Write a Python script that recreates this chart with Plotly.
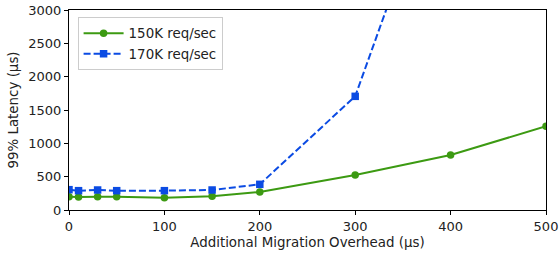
import plotly.graph_objects as go

x_150 = [0, 10, 30, 50, 100, 150, 200, 300, 400, 500]
y_150 = [200, 195, 200, 200, 185, 205, 270, 525, 825, 1255]
x_170 = [0, 10, 30, 50, 100, 150, 200, 300, 400]
y_170 = [305, 290, 300, 290, 290, 300, 385, 1705, 5700]

green = "#3c9a12"
blue = "#0b4be3"

fig = go.Figure()
fig.add_trace(go.Scatter(x=x_150, y=y_150, mode="lines+markers", name="150K req/sec",
                         line=dict(color=green, width=2),
                         marker=dict(symbol="circle", size=7.5, color=green),
                         cliponaxis=True))
fig.add_trace(go.Scatter(x=x_170, y=y_170, mode="lines+markers", name="170K req/sec",
                         line=dict(color=blue, width=2, dash="7px,3px"),
                         marker=dict(symbol="square", size=7.5, color=blue),
                         cliponaxis=True))

axis_common = dict(showline=True, linecolor="black", linewidth=1, mirror=True,
                   ticks="outside", ticklen=4, tickcolor="black", showgrid=False,
                   zeroline=False, automargin=False,
                   tickfont=dict(family="DejaVu Sans", size=13, color="#222"))
fig.update_layout(
    width=559, height=256,
    margin=dict(l=69, r=13, t=10, b=46),
    paper_bgcolor="white", plot_bgcolor="white",
    font=dict(family="DejaVu Sans", size=13, color="#222"),
    xaxis=dict(range=[0, 500], tickvals=[0, 100, 200, 300, 400, 500],
               title=dict(text="Additional Migration Overhead (µs)", standoff=5,
                          font=dict(size=13.4)), **axis_common),
    yaxis=dict(range=[0, 3000], tickvals=[0, 500, 1000, 1500, 2000, 2500, 3000],
               title=dict(text="99% Latency (µs)", standoff=6, font=dict(size=13.4)),
               **axis_common),
    legend=dict(x=0.018, y=0.965, xanchor="left", yanchor="top",
                bgcolor="rgba(255,255,255,0.9)", bordercolor="#cccccc", borderwidth=1,
                font=dict(size=13.4), itemwidth=40, tracegroupgap=2),
    showlegend=True,
)
fig.write_html("out.html", config={"displayModeBar": False},
               post_script="document.body.style.margin='0';document.body.style.overflow='hidden';")
